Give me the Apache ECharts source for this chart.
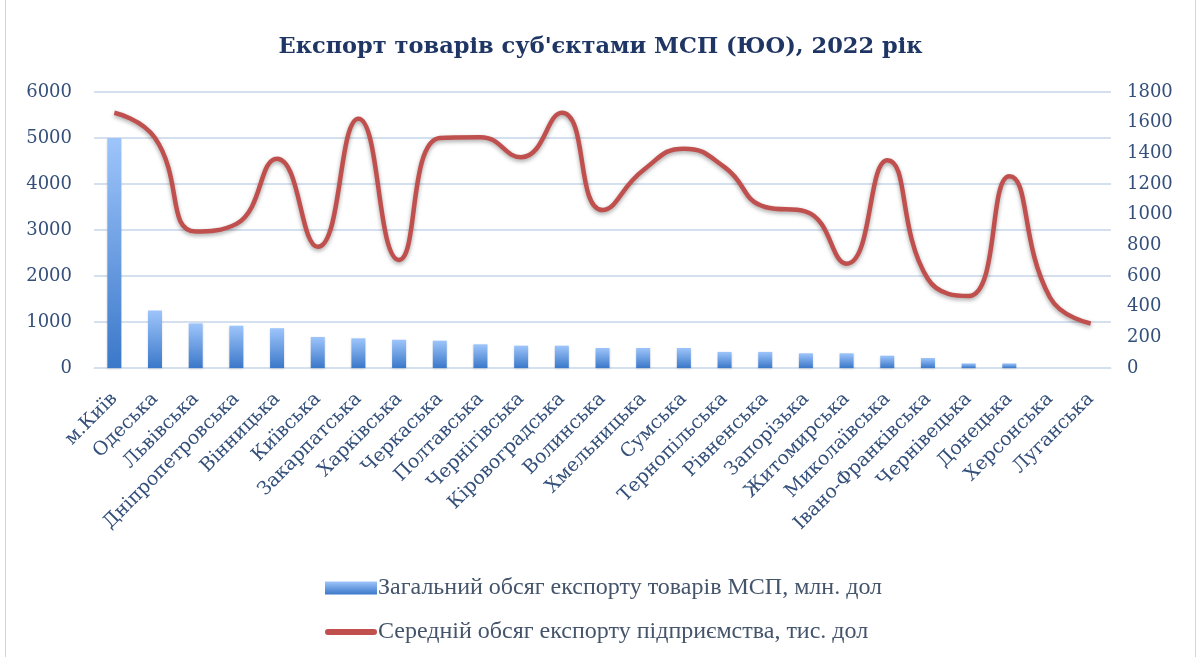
<!DOCTYPE html>
<html>
<head>
<meta charset="utf-8">
<script src="https://cdn.jsdelivr.net/npm/echarts@6/dist/echarts.min.js"></script>
<style>
  html, body { margin: 0; padding: 0; background: #fff; }
  #chart { width: 1201px; height: 657px; }
  .frame { position: absolute; left: 5px; top: -2px; width: 1189px; height: 670px;
           border: 1px solid #c9d7ea; pointer-events: none; }
</style>
</head>
<body>
<div id="chart"></div>
<div class="frame"></div>
<script>
const regions = ['м.Київ', 'Одеська', 'Львівська', 'Дніпропетровська', 'Вінницька', 'Київська',
  'Закарпатська', 'Харківська', 'Черкаська', 'Полтавська', 'Чернігівська', 'Кіровоградська',
  'Волинська', 'Хмельницька', 'Сумська', 'Тернопільська', 'Рівненська', 'Запорізька',
  'Житомирська', 'Миколаївська', 'Івано-Франківська', 'Чернівецька', 'Донецька', 'Херсонська', 'Луганська']

// загальний обсяг, млн. дол
const totalExport = [5000, 1250, 970, 920, 865, 675, 645, 615, 595, 515, 486, 486,
  435, 435, 435, 350, 350, 320, 320, 268, 217, 100, 100, 0, 0]

// середній обсяг на підприємство, тис. дол
const avgExport = [1665, 1500, 890, 940, 1365, 790, 1625, 705, 1500, 1505, 1375, 1665,
  1030, 1290, 1430, 1310, 1050, 1020, 680, 1355, 580, 470, 1250, 460, 290]

const leftTicks = { min: 0, max: 6000, interval: 1000 }
const rightTicks = { min: 0, max: 1800, interval: 200 }

const names = ['Загальний обсяг експорту товарів МСП, млн. дол', 'Середній обсяг експорту підприємства, тис. дол']

const serif = "'DejaVu Serif', serif"
const labelColor = '#34507a'
const lineColor = '#c0504d'

const chart = echarts.init(document.getElementById('chart'))

chart.setOption({
  animation: false,
  title: {
    text: 'Експорт товарів суб\'єктами МСП (ЮО), 2022 рік',
    left: 'center',
    top: 31,
    textStyle: { fontFamily: serif, fontSize: 22.5, fontWeight: 'bold', color: '#1f3563' },
  },
  grid: { left: 94, right: 90, top: 92, bottom: 289 },
  legend: {
    orient: 'vertical',
    left: 320,
    top: 571,
    itemWidth: 52,
    itemHeight: 13,
    itemGap: 20,
    textStyle: { fontFamily: "'Liberation Serif', serif", fontSize: 24, color: '#44546a', padding: [0, 0, 0, -4] },
    data: [
      { name: names[0], icon: 'rect' },
      { name: names[1], icon: 'path://M3,0 H49 A3,3 0 0 1 49,6 H3 A3,3 0 0 1 3,0 Z', itemStyle: { color: lineColor } },
    ],
  },
  xAxis: {
    type: 'category',
    data: regions,
    axisLine: { show: true, lineStyle: { color: '#d5e0ef' } },
    axisTick: { show: false },
    axisLabel: {
      interval: 0,
      rotate: 45,
      margin: 28,
      fontFamily: serif,
      fontSize: 19,
      color: labelColor,
    },
  },
  yAxis: [
    {
      type: 'value',
      ...leftTicks,
      axisLine: { show: false },
      axisTick: { show: false },
      axisLabel: { fontFamily: serif, fontSize: 18, color: labelColor, margin: 22, formatter: (v) => String(v) },
      splitLine: { lineStyle: { color: '#d5e0ef', width: 2 } },
    },
    {
      type: 'value',
      ...rightTicks,
      axisLine: { show: false },
      axisTick: { show: false },
      axisLabel: { fontFamily: serif, fontSize: 18, color: labelColor, margin: 16, formatter: (v) => String(v) },
      splitLine: { show: false },
    },
  ],
  series: [
    {
      name: names[0],
      type: 'bar',
      data: totalExport,
      barWidth: 14,
      itemStyle: {
        color: new echarts.graphic.LinearGradient(0, 0, 0, 1, [
          { offset: 0, color: '#9ec5fb' },
          { offset: 1, color: '#3b78c9' },
        ]),
        shadowColor: 'rgba(0,0,0,0.15)',
        shadowBlur: 2,
        shadowOffsetY: 1,
      },
    },
    {
      name: names[1],
      type: 'line',
      yAxisIndex: 1,
      data: avgExport,
      smooth: 0.5,
      symbol: 'none',
      z: 5,
      lineStyle: {
        color: lineColor,
        width: 4.5,
        shadowColor: 'rgba(0,0,0,0.35)',
        shadowBlur: 4,
        shadowOffsetY: 2,
      },
      itemStyle: { color: lineColor },
    },
  ],
})
</script>
</body>
</html>
